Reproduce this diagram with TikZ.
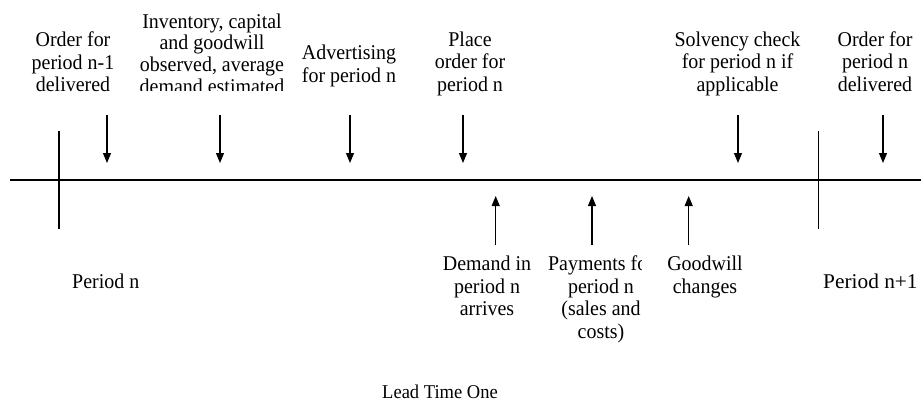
\documentclass[tikz,border=0pt]{standalone}
\usepackage{fontspec}
\setmainfont{Liberation Serif}[FakeStretch=0.95]
\usetikzlibrary{arrows.meta}
\begin{document}
\begin{tikzpicture}[x=1pt,y=-1pt,
  lbl/.style={anchor=north,inner sep=0pt,align=center,font=\fontsize{21}{22.5}\selectfont,execute at begin node=\rule{0pt}{18pt}},
  axis/.style={line width=1.3pt},
  tick/.style={line width=1.1pt},
  evt/.style={line width=1.1pt,-{Triangle[length=10pt,width=8pt]}}]
\useasboundingbox (0,0) rectangle (921,405);
% axis and period ticks
\coordinate (L) at (10,180);
\coordinate (R) at (921,180);
\draw[axis] (L) -- (R);
\coordinate (t1a) at (59,131); \coordinate (t1b) at (59,229);
\coordinate (t2a) at (818.5,131); \coordinate (t2b) at (818.5,229);
\draw[tick] (t1a) -- (t1b);
\draw[tick] (t2a) -- (t2b);
% top labels
\node[lbl] (o1) at (73,32) {Order for\\period n-1\\delivered};
\begin{scope}
\clip (130,0) rectangle (300,90.3);
\node[lbl,font=\fontsize{21}{21.7}\selectfont] (inv) at (212,13.3) {Inventory, capital\\and goodwill\\observed, average\\demand estimated};
\end{scope}
\node[lbl] (adv) at (349,45) {Advertising\\for period n};
\node[lbl] (pl) at (470,31.5) {Place\\order for\\period n};
\node[lbl] (sol) at (737.5,31.5) {Solvency check\\for period n if\\applicable};
\node[lbl] (o2) at (875,31.5) {Order for\\period n\\delivered};
% down arrows
\foreach \n/\x in {a/107,b/220,c/350,d/463,e/738,f/883}{
  \coordinate (d\n s) at (\x,115);
  \coordinate (d\n e) at (\x,163);
  \draw[evt] (d\n s) -- (d\n e);
}
% up arrows
\foreach \n/\x in {a/495.7,b/592,c/688.7}{
  \coordinate (u\n s) at (\x,245);
  \coordinate (u\n e) at (\x,196);
  \draw[evt] (u\n s) -- (u\n e);
}
% bottom labels
\node[lbl] (dem) at (487,256) {Demand in\\period n\\arrives};
\begin{scope}
\clip (540,240) rectangle (641,360);
\node[lbl] (pay) at (601,256) {Payments for\\period n\\(sales and\\costs)};
\end{scope}
\node[lbl] (gw) at (705,256) {Goodwill\\changes};
\node[lbl,anchor=north west] (pn) at (72,270) {Period n};
\node[lbl,anchor=north west] (pn1) at (823,270) {\scalebox{1.07}[1]{Period n+1}};
\node[lbl,font=\fontsize{19.5}{22.5}\selectfont] (lt) at (440,380) {Lead Time One};
\end{tikzpicture}
\end{document}
